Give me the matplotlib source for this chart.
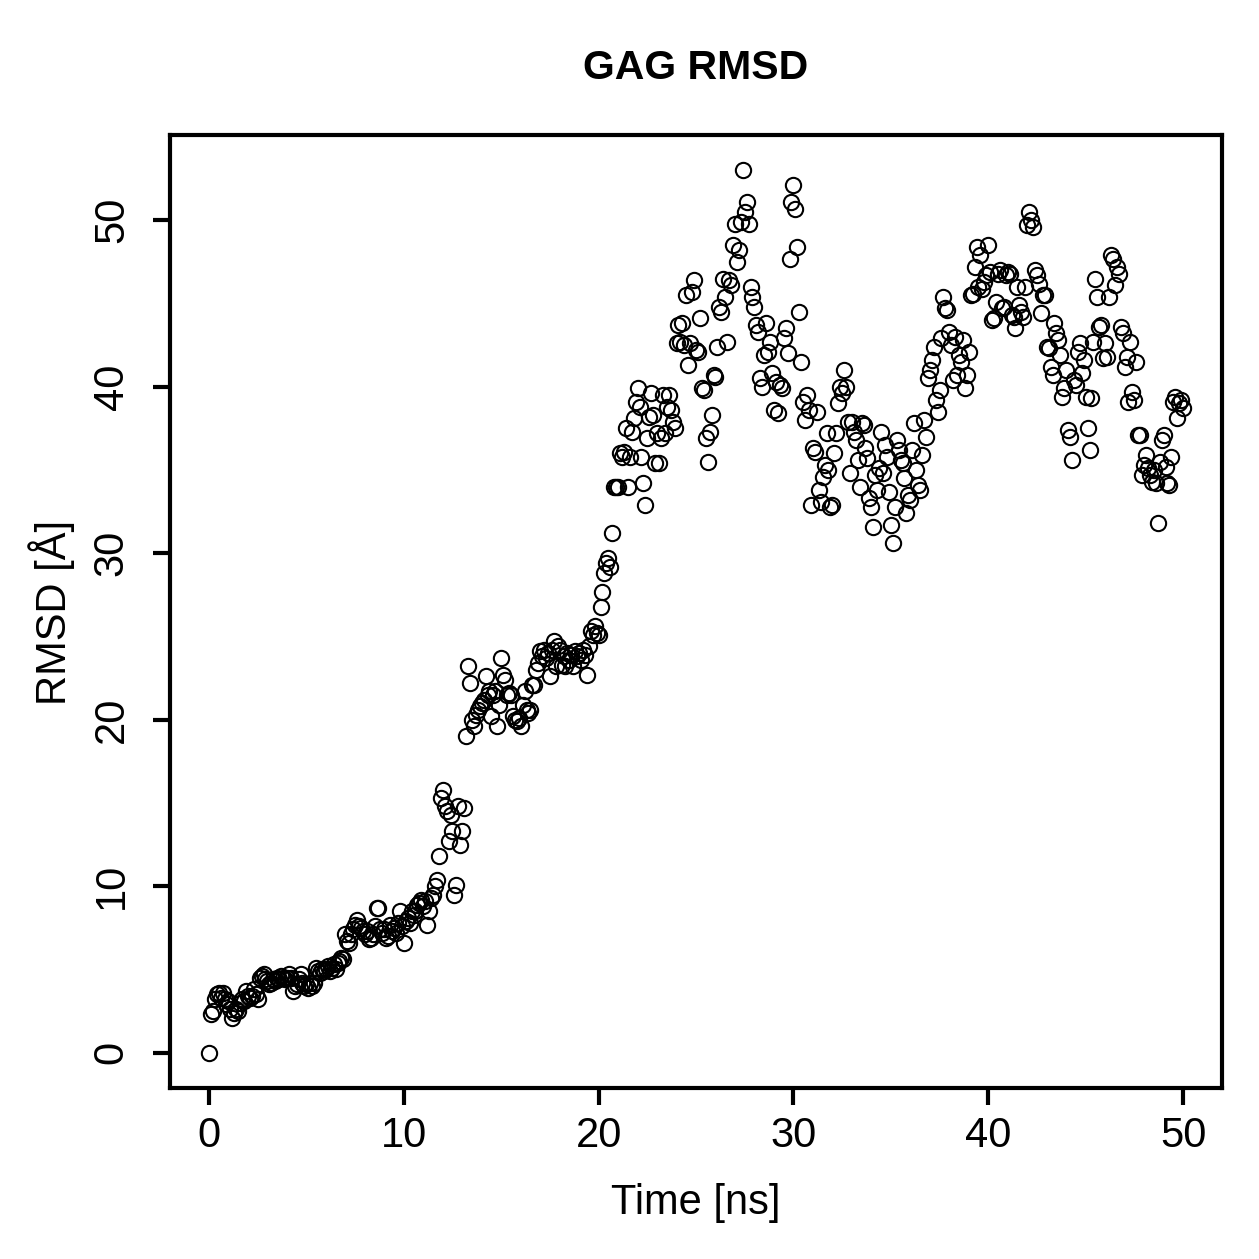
import numpy as np
import matplotlib
matplotlib.use("Agg")
import matplotlib.pyplot as plt

plt.rcParams['font.family'] = ['Liberation Sans', 'DejaVu Sans']

# RMSD values [A], one frame every 0.1 ns
rmsd_00_10 = [0.0, 2.3, 2.5, 3.2, 3.5, 3.6, 3.3, 3.6, 3.2, 2.9,
              3.1, 2.6, 2.1, 2.4, 2.6, 2.5, 3.0, 3.2, 3.1, 3.7,
              3.4, 3.3, 3.4, 3.8, 3.5, 3.2, 4.5, 4.6, 4.7, 4.4,
              4.3, 4.1, 4.2, 4.4, 4.3, 4.5, 4.4, 4.6, 4.5, 4.4,
              4.5, 4.7, 4.5, 3.7, 4.0, 4.1, 4.4, 4.7, 4.2, 4.0,
              4.1, 3.9, 4.2, 4.0, 4.2, 5.1, 4.9, 4.8, 5.0, 4.9,
              5.0, 5.2, 4.9, 5.1, 5.3, 5.0, 5.4, 5.5, 5.7, 5.6,
              7.1, 6.7, 6.6, 7.1, 7.4, 7.7, 8.0, 7.6, 7.5, 7.3,
              7.1, 7.3, 6.8, 6.9, 7.1, 7.6, 8.7, 8.7, 7.4, 7.2,
              7.4, 6.9, 7.0, 7.7, 7.3, 7.5, 7.2, 7.8, 8.5, 7.6]
rmsd_10_20 = [6.6, 7.9, 8.1, 7.8, 8.5, 8.3, 8.5, 8.9, 9.0, 9.2,
              8.8, 9.1, 7.7, 8.5, 9.3, 9.5, 10.0, 10.4, 11.8, 15.3,
              15.8, 14.8, 14.5, 12.7, 14.3, 13.3, 9.5, 10.1, 14.8, 12.5,
              13.3, 14.7, 19.0, 23.2, 22.2, 20.0, 19.6, 20.3, 20.6, 20.8,
              21.0, 21.2, 22.6, 21.5, 21.7, 20.2, 21.5, 21.7, 19.6, 20.9,
              23.7, 22.7, 22.4, 21.5, 21.6, 21.5, 20.2, 20.0, 19.9, 20.1,
              19.6, 20.9, 21.7, 20.6, 20.4, 20.6, 22.1, 22.1, 23.0, 23.4,
              24.1, 23.8, 24.2, 23.7, 24.0, 22.6, 24.2, 24.7, 23.2, 24.4,
              24.2, 23.3, 23.8, 23.2, 24.0, 23.6, 23.9, 23.2, 24.1, 23.8,
              24.0, 23.6, 24.2, 23.9, 22.7, 24.4, 25.3, 25.1, 25.6, 25.2]
rmsd_20_30 = [25.1, 26.8, 27.7, 28.8, 29.4, 29.7, 29.2, 31.2, 34.0, 34.0,
              34.0, 36.0, 35.8, 36.1, 37.5, 34.0, 35.8, 37.3, 38.1, 39.1,
              39.9, 38.8, 35.8, 34.2, 32.9, 36.9, 38.2, 39.6, 38.3, 35.4,
              37.2, 35.4, 36.9, 39.5, 37.2, 38.8, 39.5, 38.6, 37.9, 37.5,
              42.6, 43.7, 42.7, 43.8, 42.5, 45.5, 41.3, 42.6, 45.7, 46.4,
              42.2, 42.1, 44.1, 39.9, 39.8, 36.9, 35.5, 37.3, 38.3, 40.7,
              40.6, 42.4, 44.8, 44.5, 46.5, 45.4, 42.7, 46.4, 46.1, 48.5,
              49.8, 47.5, 48.2, 49.9, 53.0, 50.5, 51.1, 49.8, 46.0, 45.4,
              44.8, 43.7, 43.3, 40.5, 40.0, 41.9, 43.8, 42.1, 42.7, 40.8,
              38.6, 40.3, 38.4, 40.1, 39.9, 42.9, 43.5, 42.0, 47.7, 51.1]
rmsd_30_40 = [52.1, 50.7, 48.4, 44.5, 41.5, 39.1, 38.0, 39.5, 38.6, 32.9,
              36.3, 36.1, 38.5, 33.8, 33.1, 34.6, 35.3, 37.2, 35.0, 32.8,
              32.9, 36.0, 37.2, 39.0, 40.0, 39.6, 41.0, 40.0, 37.9, 34.8,
              37.9, 37.3, 36.8, 35.6, 34.0, 37.8, 37.7, 36.3, 35.7, 33.3,
              32.8, 31.6, 34.7, 33.8, 35.1, 37.3, 34.8, 36.5, 35.8, 33.7,
              31.7, 30.6, 32.8, 36.8, 36.2, 35.6, 35.4, 34.5, 32.4, 33.5,
              33.2, 36.2, 37.8, 35.0, 34.1, 33.8, 35.9, 38.0, 37.0, 40.5,
              41.0, 41.6, 42.4, 39.2, 38.5, 39.8, 42.9, 45.4, 44.7, 44.6,
              43.3, 42.5, 40.4, 43.0, 40.7, 41.9, 41.5, 42.8, 39.9, 40.7,
              42.1, 45.5, 45.6, 47.2, 48.4, 46.0, 47.9, 45.9, 46.3, 46.7]
rmsd_40_50 = [48.5, 46.9, 44.0, 44.1, 45.1, 46.8, 47.0, 44.7, 44.8, 46.7,
              46.9, 46.8, 44.3, 44.2, 43.5, 46.0, 44.9, 44.5, 44.2, 46.0,
              49.7, 50.5, 50.0, 49.6, 47.0, 46.7, 46.2, 44.4, 45.5, 45.5,
              42.4, 42.3, 41.2, 40.7, 43.8, 43.2, 42.8, 41.9, 39.4, 39.9,
              41.0, 37.4, 37.0, 35.6, 40.4, 40.1, 42.1, 42.6, 40.8, 41.6,
              39.4, 37.5, 36.2, 39.3, 42.7, 46.5, 45.4, 43.6, 43.7, 41.7,
              42.6, 41.8, 45.4, 47.9, 47.7, 46.1, 47.2, 46.8, 43.6, 43.2,
              41.2, 41.8, 39.1, 42.7, 39.7, 39.2, 41.5, 37.1, 37.1, 34.7,
              35.3, 35.9, 35.1, 34.7, 34.3, 35.0, 34.2, 31.8, 35.5, 36.8,
              37.1, 35.2, 34.2, 34.1, 35.8, 39.1, 39.4, 38.1, 39.0, 39.2,
              38.7]

rmsd = np.array(rmsd_00_10 + rmsd_10_20 + rmsd_20_30 + rmsd_30_40 + rmsd_40_50)
time_ns = np.arange(len(rmsd)) * 0.1

x_ticks = [0, 10, 20, 30, 40, 50]
y_ticks = [0, 10, 20, 30, 40, 50]

W = 1259
fig = plt.figure(figsize=(W / 100, W / 100), dpi=100)
ax = fig.add_axes([170 / W, 1 - 1088 / W, (1222 - 170) / W, (1088 - 135) / W])

ax.plot(time_ns, rmsd, ls='none', marker='o', ms=11.0, mfc='none',
        mec='black', mew=1.5)

# R-like 4% padding around the data range
xr = time_ns.max() - time_ns.min()
yr = rmsd.max() - rmsd.min()
ax.set_xlim(time_ns.min() - 0.04 * xr, time_ns.max() + 0.04 * xr)
ax.set_ylim(rmsd.min() - 0.04 * yr, rmsd.max() + 0.04 * yr)

ax.set_xticks(x_ticks)
ax.set_yticks(y_ticks)
for s in ax.spines.values():
    s.set_linewidth(3.0)
ax.tick_params(axis='both', direction='out', length=12.5, width=3.0,
               labelsize=30)
ax.tick_params(axis='x', pad=8)
ax.tick_params(axis='y', pad=15, labelrotation=90)
for lab in ax.get_yticklabels():
    lab.set_va('center')

fig.text(696 / W, 1 - 68 / W, 'GAG RMSD', ha='center', va='center',
         fontsize=29.5, fontweight='bold')
fig.text(696 / W, 1 - 1203 / W, 'Time [ns]', ha='center', va='center',
         fontsize=30)
fig.text(52 / W, 1 - 612 / W, 'RMSD [Å]', ha='center', va='center',
         fontsize=30, rotation=90)

fig.savefig('out.png', dpi=100)
